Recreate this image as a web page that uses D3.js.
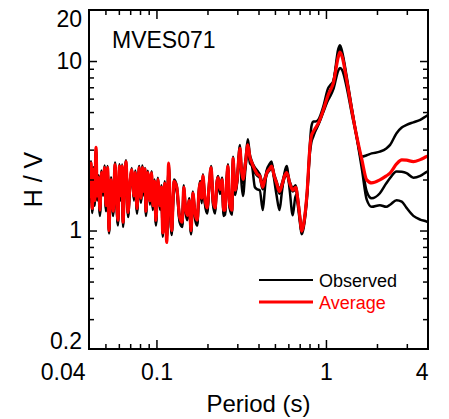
<!DOCTYPE html>
<html>
<head>
<meta charset="utf-8">
<script src="https://cdn.jsdelivr.net/npm/d3@7"></script>
<style>
  body { margin: 0; background: #fff; }
  svg { display: block; font-family: "Liberation Sans", Arial, sans-serif; }
</style>
</head>
<body>
<div id="vis"></div>
<script>
const frame_width = 449;
const frame_height = 419;
const margins = {left: 89, right: 21, top: 10, bottom: 70};

// period (s)
const periods = [
  0.0400, 0.0405, 0.0411, 0.0418, 0.0425, 0.0432, 0.0440, 0.0447, 0.0455, 0.0464,
  0.0474, 0.0484, 0.0494, 0.0504, 0.0515, 0.0525, 0.0532, 0.0539, 0.0555, 0.0570,
  0.0582, 0.0593, 0.0605, 0.0618, 0.0627, 0.0635, 0.0648, 0.0661, 0.0680, 0.0698,
  0.0715, 0.0737, 0.0750, 0.0768, 0.0790, 0.0810, 0.0827, 0.0844, 0.0856, 0.0867,
  0.0890, 0.0916, 0.0935, 0.0954, 0.0973, 0.0993, 0.102, 0.105, 0.107, 0.109,
  0.112, 0.115, 0.118, 0.120, 0.123, 0.127, 0.132, 0.137, 0.142, 0.145,
  0.148, 0.152, 0.156, 0.160, 0.164, 0.169, 0.174, 0.178, 0.181, 0.185,
  0.188, 0.193, 0.199, 0.205, 0.210, 0.216, 0.222, 0.227, 0.231, 0.237,
  0.244, 0.249, 0.254, 0.259, 0.264, 0.270, 0.279, 0.283, 0.291, 0.299,
  0.311, 0.317, 0.324, 0.335, 0.346, 0.356, 0.366, 0.381, 0.394, 0.407,
  0.424, 0.436, 0.448, 0.463, 0.478, 0.495, 0.511, 0.532, 0.550, 0.570,
  0.587, 0.611, 0.637, 0.663, 0.683, 0.705, 0.719, 0.740, 0.773, 0.805,
  0.820, 0.842, 0.870, 0.901, 0.965, 1.03, 1.06, 1.105, 1.183, 1.21,
  1.25, 1.325, 1.42, 1.52, 1.63, 1.74, 1.86, 2.08, 2.27, 2.39,
  2.61, 2.80, 2.99, 3.28, 3.60, 3.93, 4.00
];

// average H/V (red)
const average = [
  1.55, 2.10, 2.50, 1.35, 2.30, 1.50, 3.10, 1.60, 2.05, 1.32,
  2.20, 1.70, 2.35, 1.40, 2.35, 1.00, 1.55, 2.00, 1.30, 2.45,
  1.50, 1.15, 2.40, 1.60, 2.40, 1.12, 1.90, 2.55, 1.28, 1.90,
  2.28, 1.60, 2.20, 1.35, 2.35, 1.55, 2.35, 1.70, 2.30, 1.30,
  2.20, 1.50, 2.19, 1.40, 1.95, 1.15, 2.00, 1.40, 1.80, 0.97,
  1.90, 0.85, 2.50, 1.60, 1.00, 1.95, 1.78, 1.20, 1.12, 1.80,
  1.40, 1.23, 1.50, 1.00, 1.66, 1.25, 1.15, 1.70, 1.91, 1.55,
  2.10, 1.55, 1.36, 1.90, 2.35, 1.50, 1.36, 1.90, 2.05, 1.75,
  2.00, 1.32, 1.32, 1.90, 2.40, 1.45, 1.32, 2.67, 1.73, 2.00,
  3.05, 2.30, 2.00, 2.50, 3.20, 2.70, 2.50, 2.28, 2.15, 2.10,
  1.80, 2.00, 2.19, 2.30, 2.40, 2.10, 1.91, 1.70, 1.85, 2.10,
  2.20, 1.91, 1.73, 1.80, 1.51, 1.15, 0.99, 1.10, 1.65, 3.12,
  3.60, 3.83, 4.05, 4.29, 5.14, 6.30, 6.70, 7.39, 10.6, 11.3,
  10.5, 7.73, 5.14, 3.58, 2.61, 1.99, 1.91, 1.99, 2.10, 2.18,
  2.47, 2.61, 2.60, 2.55, 2.62, 2.73, 2.75
];

// observed H/V (black), three records
const observed1 = [
  1.62, 2.18, 2.56, 1.40, 2.36, 1.55, 3.05, 1.66, 2.12, 1.36,
  2.26, 1.75, 2.42, 1.44, 2.40, 1.06, 1.60, 2.06, 1.35, 2.52,
  1.55, 1.18, 2.46, 1.65, 2.45, 1.16, 1.95, 2.60, 1.32, 1.96,
  2.34, 1.64, 2.26, 1.40, 2.40, 1.60, 2.42, 1.74, 2.34, 1.34,
  2.25, 1.54, 2.24, 1.44, 2.00, 1.18, 2.05, 1.45, 1.85, 1.00,
  1.95, 0.90, 2.45, 1.64, 1.04, 2.00, 1.82, 1.24, 1.16, 1.85,
  1.44, 1.27, 1.55, 1.04, 1.70, 1.30, 1.20, 1.74, 1.96, 1.60,
  2.15, 1.60, 1.40, 1.96, 2.40, 1.55, 1.40, 1.95, 2.10, 1.80,
  2.05, 1.36, 1.36, 1.95, 2.46, 1.50, 1.36, 2.72, 1.78, 2.06,
  3.20, 2.40, 2.10, 2.60, 3.45, 2.80, 2.55, 2.35, 2.25, 2.15,
  1.90, 2.05, 2.25, 2.35, 2.45, 2.15, 1.95, 1.75, 1.90, 2.15,
  2.25, 1.95, 1.78, 1.85, 1.55, 1.18, 1.00, 1.12, 1.68, 3.30,
  4.10, 4.40, 4.40, 4.50, 5.40, 6.90, 7.20, 7.60, 11.8, 12.4,
  11.2, 8.10, 5.30, 3.60, 2.73, 2.78, 2.85, 2.92, 3.05, 3.20,
  3.75, 4.05, 4.20, 4.35, 4.50, 4.75, 4.80
];
const observed2 = [
  1.50, 2.02, 2.40, 1.30, 2.22, 1.44, 3.00, 1.54, 1.98, 1.26,
  2.12, 1.64, 2.28, 1.34, 2.28, 0.98, 1.50, 1.94, 1.25, 2.38,
  1.45, 1.10, 2.32, 1.55, 2.34, 1.08, 1.84, 2.48, 1.24, 1.84,
  2.20, 1.54, 2.14, 1.30, 2.28, 1.50, 2.28, 1.64, 2.22, 1.25,
  2.12, 1.45, 2.12, 1.35, 1.90, 1.10, 1.94, 1.35, 1.74, 0.94,
  1.84, 0.86, 2.40, 1.55, 0.96, 1.90, 1.72, 1.15, 1.08, 1.74,
  1.35, 1.18, 1.45, 0.97, 1.60, 1.20, 1.10, 1.64, 1.85, 1.50,
  2.04, 1.48, 1.30, 1.84, 2.28, 1.44, 1.30, 1.84, 1.98, 1.68,
  1.94, 1.26, 1.28, 1.84, 2.32, 1.40, 1.27, 2.60, 1.66, 1.94,
  3.00, 2.20, 1.90, 2.45, 3.10, 2.65, 2.45, 2.20, 2.10, 2.05,
  1.75, 1.95, 2.15, 2.25, 2.35, 2.05, 1.85, 1.65, 1.80, 2.05,
  2.15, 1.85, 1.70, 1.75, 1.48, 1.12, 0.97, 1.08, 1.62, 3.00,
  3.50, 3.70, 3.95, 4.25, 5.10, 6.20, 6.60, 7.50, 11.0, 11.8,
  10.8, 7.80, 5.20, 3.55, 2.45, 1.70, 1.55, 1.66, 1.90, 2.04,
  2.23, 2.22, 2.18, 2.05, 2.10, 2.22, 2.24
];
const observed3 = [
  1.45, 1.98, 2.35, 1.27, 2.18, 1.40, 2.90, 1.50, 1.95, 1.22,
  2.08, 1.60, 2.22, 1.30, 2.25, 0.96, 1.46, 1.90, 1.22, 2.34,
  1.40, 1.07, 2.28, 1.50, 2.30, 1.05, 1.80, 2.44, 1.20, 1.80,
  2.16, 1.50, 2.10, 1.26, 2.25, 1.46, 2.24, 1.60, 2.20, 1.22,
  2.10, 1.42, 2.08, 1.32, 1.86, 1.07, 1.90, 1.32, 1.70, 0.92,
  1.80, 0.88, 2.36, 1.50, 0.94, 1.86, 1.68, 1.12, 1.05, 1.70,
  1.32, 1.15, 1.42, 0.95, 1.56, 1.17, 1.07, 1.60, 1.80, 1.45,
  2.00, 1.44, 1.26, 1.80, 2.24, 1.40, 1.26, 1.80, 1.94, 1.64,
  1.90, 1.22, 1.24, 1.80, 2.28, 1.36, 1.24, 2.55, 1.62, 1.90,
  2.95, 1.95, 1.60, 2.30, 3.00, 2.50, 2.40, 1.80, 1.75, 1.73,
  1.32, 1.75, 2.28, 2.45, 2.55, 2.00, 1.62, 1.32, 1.70, 2.20,
  2.40, 1.73, 1.23, 1.62, 1.40, 1.08, 0.95, 1.05, 1.55, 2.90,
  3.30, 3.58, 3.90, 4.20, 5.00, 5.90, 6.20, 6.80, 8.80, 9.10,
  8.80, 7.00, 4.90, 3.50, 2.30, 1.52, 1.38, 1.41, 1.38, 1.42,
  1.51, 1.48, 1.36, 1.22, 1.16, 1.13, 1.12
];

const x_major = [0.04, 0.1, 1, 4];
const x_major_ticks = [0.1, 1];
const x_minor_ticks = [0.05, 0.06, 0.07, 0.08, 0.09, 0.2, 0.3, 0.4, 0.5, 0.6, 0.7, 0.8, 0.9, 2, 3];
const y_major = [0.2, 1, 10, 20];
const y_major_ticks = [1, 10];
const y_minor_ticks = [0.3, 0.4, 0.5, 0.6, 0.7, 0.8, 0.9, 2, 3, 4, 5, 6, 7, 8, 9];

const red = "#ff0000";

const svg = d3.select("#vis")
  .append("svg")
    .attr("width", frame_width)
    .attr("height", frame_height);

const plot_w = frame_width - margins.left - margins.right;
const plot_h = frame_height - margins.top - margins.bottom;

const x_scale = d3.scaleLog()
  .domain([0.04, 4])
  .range([margins.left, margins.left + plot_w]);

const y_scale = d3.scaleLog()
  .domain([0.2, 20])
  .range([margins.top + plot_h, margins.top]);

svg.append("clipPath")
    .attr("id", "clip")
  .append("rect")
    .attr("x", margins.left)
    .attr("y", margins.top)
    .attr("width", plot_w)
    .attr("height", plot_h);

const line = (vals) => d3.line()
  .x((d, i) => x_scale(periods[i]))
  .y((d) => y_scale(d))
  .curve(d3.curveMonotoneX)(vals);

const lines = svg.append("g").attr("clip-path", "url(#clip)");

[observed1, observed2, observed3].forEach((vals) => {
  lines.append("path")
    .attr("d", line(vals))
    .attr("fill", "none")
    .attr("stroke", "#000")
    .attr("stroke-width", 2.5)
    .attr("stroke-linejoin", "round");
});

lines.append("path")
  .attr("d", line(average))
  .attr("fill", "none")
  .attr("stroke", red)
  .attr("stroke-width", 3.2)
  .attr("stroke-linejoin", "round");

// ticks on all four sides, pointing inward
function tickAxis(axis, values, size) {
  return axis.tickValues(values).tickSize(-size).tickFormat("");
}
const bottomY = margins.top + plot_h;
const rightX = margins.left + plot_w;

[[x_major_ticks, 9], [x_minor_ticks, 5]].forEach(([vals, len]) => {
  svg.append("g").attr("transform", "translate(0," + bottomY + ")")
    .call(tickAxis(d3.axisBottom(x_scale), vals, len));
  svg.append("g").attr("transform", "translate(0," + margins.top + ")")
    .call(tickAxis(d3.axisTop(x_scale), vals, len));
});
[[y_major_ticks, 8], [y_minor_ticks, 5]].forEach(([vals, len]) => {
  svg.append("g").attr("transform", "translate(" + margins.left + ",0)")
    .call(tickAxis(d3.axisLeft(y_scale), vals, len));
  svg.append("g").attr("transform", "translate(" + rightX + ",0)")
    .call(tickAxis(d3.axisRight(y_scale), vals, len));
});
svg.selectAll(".domain").remove();
svg.selectAll(".tick line").attr("stroke", "#000").attr("stroke-width", 1.5);

// tick labels
svg.append("g")
  .attr("transform", "translate(0," + bottomY + ")")
  .call(d3.axisBottom(x_scale).tickValues(x_major).tickSize(0).tickPadding(15)
    .tickFormat((d) => String(d)))
  .call((g) => g.select(".domain").remove())
  .call((g) => g.selectAll("text")
    .attr("font-size", "23px")
    .attr("fill", "#000")
    .attr("font-family", "Liberation Sans, Arial, sans-serif")
    .each(function(d) {
      if (d === 0.04) d3.select(this).attr("text-anchor", "end").attr("x", -4);
      if (d === 4) d3.select(this).attr("text-anchor", "end").attr("x", 0);
    }));

svg.append("g")
  .attr("transform", "translate(" + margins.left + ",0)")
  .call(d3.axisLeft(y_scale).tickValues(y_major).tickSize(0).tickPadding(7)
    .tickFormat((d) => String(d)))
  .call((g) => g.select(".domain").remove())
  .call((g) => g.selectAll("text")
    .attr("font-size", "23px")
    .attr("fill", "#000")
    .attr("font-family", "Liberation Sans, Arial, sans-serif")
    .each(function(d) {
      if (d === 20) d3.select(this).attr("y", 9);
      if (d === 0.2) d3.select(this).attr("y", -8);
    }));

// frame
svg.append("rect")
  .attr("x", margins.left)
  .attr("y", margins.top)
  .attr("width", plot_w)
  .attr("height", plot_h)
  .attr("fill", "none")
  .attr("stroke", "#000")
  .attr("stroke-width", 2);

// axis titles
svg.append("text")
  .attr("x", margins.left + plot_w / 2)
  .attr("y", 412)
  .attr("text-anchor", "middle")
  .attr("font-size", "24px")
  .text("Period (s)");

svg.append("text")
  .attr("transform", "translate(42," + (margins.top + plot_h / 2) + ") rotate(-90)")
  .attr("text-anchor", "middle")
  .attr("font-size", "25px")
  .text("H / V");

svg.append("text")
  .attr("x", 112)
  .attr("y", 48)
  .attr("font-size", "23px")
  .text("MVES071");

// legend
const legend = [
  {label: "Observed", color: "#000", width: 2, y: 280},
  {label: "Average", color: red, width: 3, y: 302}
];
legend.forEach((d) => {
  svg.append("line")
    .attr("x1", 259).attr("x2", 313)
    .attr("y1", d.y).attr("y2", d.y)
    .attr("stroke", d.color)
    .attr("stroke-width", d.width);
  svg.append("text")
    .attr("x", 319)
    .attr("y", d.y + 6.5)
    .attr("font-size", "18px")
    .attr("fill", d.color)
    .text(d.label);
});
</script>
</body>
</html>
